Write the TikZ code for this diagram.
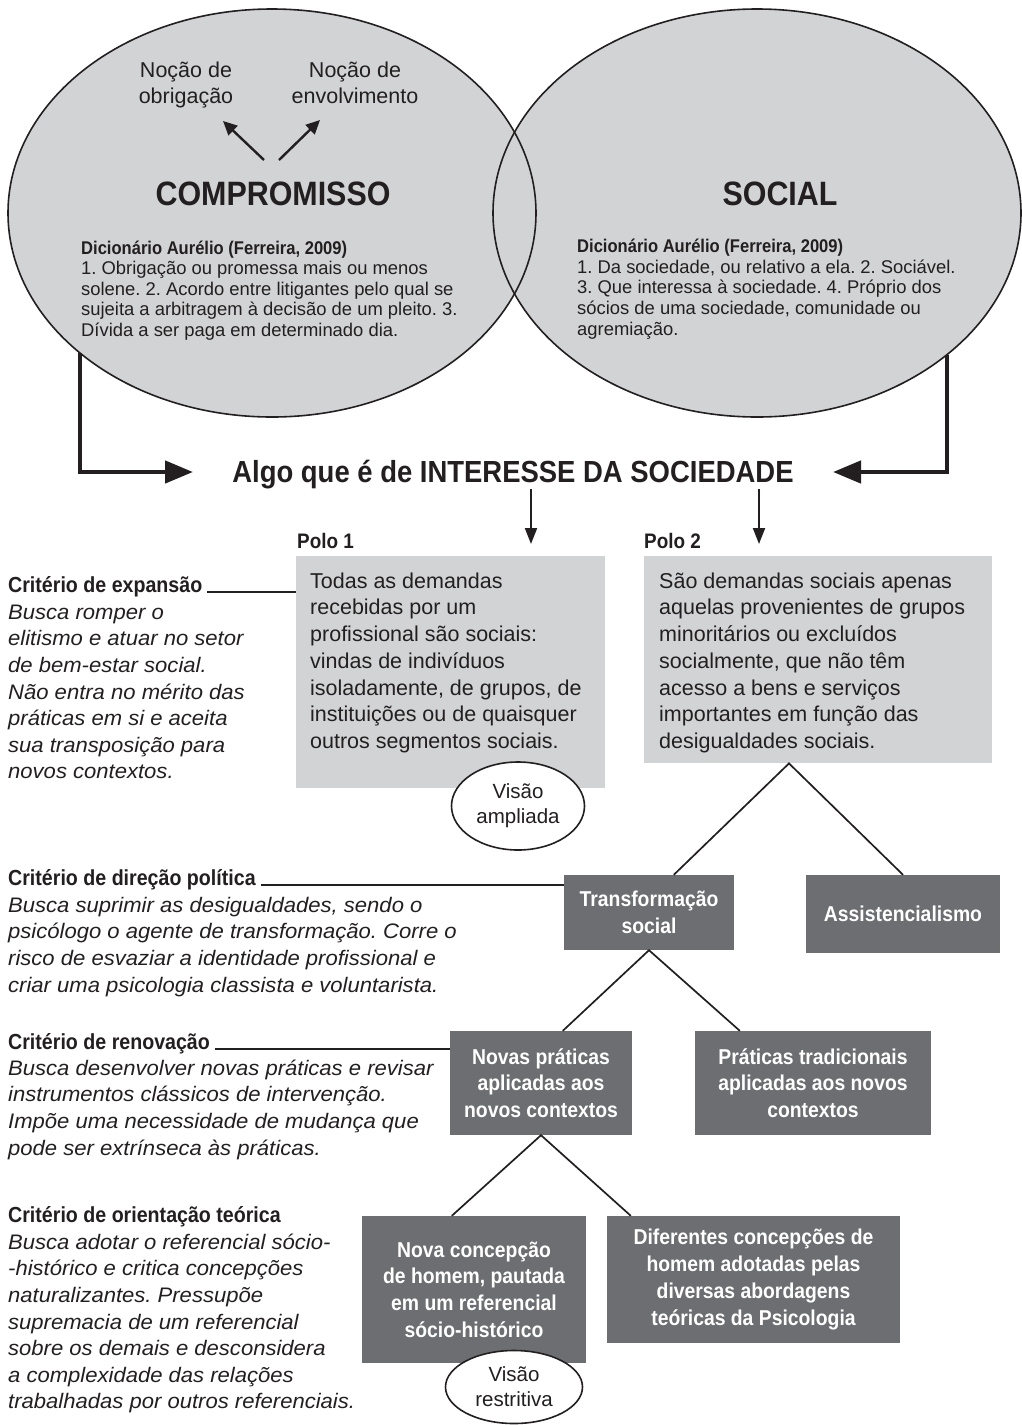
\documentclass[tikz,border=0pt]{standalone}
\usepackage{fontspec}
\setmainfont{Liberation Sans}[BoldFeatures={FakeStretch=0.9},ItalicFeatures={FakeStretch=1.05}]
\usetikzlibrary{shapes.geometric,arrows.meta}
\definecolor{lg}{HTML}{D1D3D4}
\definecolor{dg}{HTML}{6D6E71}
\definecolor{ink}{HTML}{231F20}
\newcommand{\fsz}[2]{\fontsize{#1}{#2}\selectfont}
\newcommand{\st}{\rule{0pt}{1em}}
\frenchspacing
\begin{document}
\frenchspacing
\begin{tikzpicture}[x=1pt,y=-1pt,
  every node/.style={inner sep=0pt, text=ink},
  txt/.style={anchor=north west, align=left},
  crit/.style={anchor=base west, font=\bfseries\fsz{21.8}{24}},
  polo/.style={anchor=base west, font=\bfseries\fsz{21}{24}},
  critt/.style={txt, font=\itshape\fsz{21}{26.6}},
  dark/.style={fill=dg, text=white, font=\bfseries\fsz{21.5}{26.7}, align=center},
  oval/.style={ellipse, draw=ink, fill=white, line width=1.6pt, align=center, font=\fsz{20.5}{25}},
  tree/.style={draw=ink, line width=1.7pt},
  thickarrow/.style={draw=ink, line width=4.5pt, -{Triangle[length=28pt,width=22pt]}},
  downarrow/.style={draw=ink, line width=2pt, -{Triangle[length=16pt,width=12pt]}},
  notarrow/.style={draw=ink, line width=2.4pt, -{Triangle[length=14pt,width=13pt]}},
  critline/.style={draw=ink, line width=1.8pt}]
\useasboundingbox[fill=white] (0,0) rectangle (1021,1425);

% ellipses
\node[ellipse, fill=lg, minimum width=528pt, minimum height=408pt] (elL) at (272,213) {};
\node[ellipse, fill=lg, minimum width=528pt, minimum height=408pt] (elR) at (757,213) {};
\draw[ink, line width=1.6pt] (elL.center) ellipse [x radius=264, y radius=204];
\draw[ink, line width=1.6pt] (elR.center) ellipse [x radius=264, y radius=204];

% notions
\node[anchor=north, align=center, font=\fsz{21.5}{26}] (n1) at (186,55.5) {\st Noção de\\obrigação};
\node[anchor=north, align=center, font=\fsz{21.5}{26}] (n2) at (355,55.5) {\st Noção de\\envolvimento};
\coordinate (nr1) at (264,160); \coordinate (nt1) at (223,121);
\coordinate (nr2) at (279,160); \coordinate (nt2) at (320,120);
\draw[notarrow] (nr1) -- (nt1);
\draw[notarrow] (nr2) -- (nt2);

\node[anchor=base, font=\bfseries\fsz{33.8}{36}] (comp) at (273,205) {COMPROMISSO};
\node[anchor=base, font=\bfseries\fsz{33.8}{36}] (soc) at (780,205) {SOCIAL};

\node[txt, font=\fsz{18.4}{20.5}] (dicL) at (81,235.6) {\st\textbf{Dicionário Aurélio (Ferreira, 2009)}\\
1. Obrigação ou promessa mais ou menos\\
solene. 2. Acordo entre litigantes pelo qual se\\
sujeita a arbitragem à decisão de um pleito. 3.\\
Dívida a ser paga em determinado dia.};
\node[txt, font=\fsz{18.4}{20.8}] (dicR) at (577,233.6) {\st\textbf{Dicionário Aurélio (Ferreira, 2009)}\\
1. Da sociedade, ou relativo a ela. 2. Sociável.\\
3. Que interessa à sociedade. 4. Próprio dos\\
sócios de uma sociedade, comunidade ou\\
agremiação.};

% title and big connectors
\node[anchor=base, font=\bfseries\fsz{30.5}{34}] (title) at (513,482) {Algo que é de INTERESSE DA SOCIEDADE};
\coordinate (lst) at (80,353); \coordinate (ltip) at (193,472);
\coordinate (rst) at (947,355); \coordinate (rtip) at (833,472);
\draw[thickarrow] (lst) |- (ltip);
\draw[thickarrow] (rst) |- (rtip);

\coordinate (d1s) at (531,489); \coordinate (d1e) at (531,544);
\coordinate (d2s) at (759,489); \coordinate (d2e) at (759,544);
\draw[downarrow] (d1s) -- (d1e);
\draw[downarrow] (d2s) -- (d2e);

\node[polo] (polo1) at (297,548) {Polo 1};
\node[polo] (polo2) at (644,548) {Polo 2};

% pole boxes
\node[fill=lg, anchor=north west, minimum width=309pt, minimum height=232pt] (box1) at (296,556) {};
\node[fill=lg, anchor=north west, minimum width=348pt, minimum height=207pt] (box2) at (644,556) {};
\node[txt, font=\fsz{21.5}{26.7}] (t1) at (310,566.5) {\st Todas as demandas\\
recebidas por um\\
profissional são sociais:\\
vindas de indivíduos\\
isoladamente, de grupos, de\\
instituições ou de quaisquer\\
outros segmentos sociais.};
\node[txt, font=\fsz{21.5}{26.7}] (t2) at (659,566.5) {\st São demandas sociais apenas\\
aquelas provenientes de grupos\\
minoritários ou excluídos\\
socialmente, que não têm\\
acesso a bens e serviços\\
importantes em função das\\
desigualdades sociais.};

\node[oval, minimum width=133pt, minimum height=88pt] (va) at (518,806) {Visão\\ampliada};

% dark boxes
\node[dark, minimum width=170pt, minimum height=75pt] (tr) at (649,912.5) {Transformação\\social};
\node[dark, minimum width=194pt, minimum height=78pt] (as) at (903,914) {Assistencialismo};
\node[dark, minimum width=182pt, minimum height=104pt] (np) at (541,1083) {Novas práticas\\aplicadas aos\\novos contextos};
\node[dark, minimum width=236pt, minimum height=104pt] (pt) at (813,1083) {Práticas tradicionais\\aplicadas aos novos\\contextos};
\node[dark, minimum width=224pt, minimum height=147pt] (nc) at (474,1289.5) {Nova concepção\\de homem, pautada\\em um referencial\\sócio-histórico};
\node[dark, minimum width=293pt, minimum height=127pt] (df) at (753.5,1279.5) {Diferentes concepções de\\homem adotadas pelas\\diversas abordagens\\teóricas da Psicologia};

\node[oval, minimum width=137pt, minimum height=73pt] (vr) at (514,1387) {Visão\\restritiva};

% tree connectors
\coordinate (p2a) at ([xshift=145pt]box2.south west);
\coordinate (tra) at ([xshift=110pt]tr.north west);
\coordinate (npa) at ([xshift=113pt]np.north west);
\coordinate (pta) at ([xshift=45pt]pt.north west);
\coordinate (nca) at ([xshift=90pt]nc.north west);
\coordinate (dfa) at ([xshift=24pt]df.north west);
\draw[tree] (tra) -- (p2a) -- (as.north);
\draw[tree] (npa) -- (tr.south) -- (pta);
\draw[tree] (nca) -- (np.south) -- (dfa);

% criteria
\node[crit] (c1) at (8,592) {Critério de expansão};
\node[critt] (c1t) at (8,598) {\st Busca romper o\\
elitismo e atuar no setor\\
de bem-estar social.\\
Não entra no mérito das\\
práticas em si e aceita\\
sua transposição para\\
novos contextos.};
\node[crit] (c2) at (8,885) {Critério de direção política};
\node[critt] (c2t) at (8,891) {\st Busca suprimir as desigualdades, sendo o\\
psicólogo o agente de transformação. Corre o\\
risco de esvaziar a identidade profissional e\\
criar uma psicologia classista e voluntarista.};
\node[crit] (c3) at (8,1049) {Critério de renovação};
\node[critt] (c3t) at (8,1054) {\st Busca desenvolver novas práticas e revisar\\
instrumentos clássicos de intervenção.\\
Impõe uma necessidade de mudança que\\
pode ser extrínseca às práticas.};
\node[crit] (c4) at (8,1222) {Critério de orientação teórica};
\node[critt] (c4t) at (8,1228) {\st Busca adotar o referencial sócio-\\
-histórico e critica concepções\\
naturalizantes. Pressupõe\\
supremacia de um referencial\\
sobre os demais e desconsidera\\
a complexidade das relações\\
trabalhadas por outros referenciais.};

\draw[critline] ([xshift=5pt]c1.base east) -- (c1.base east -| box1.west);
\draw[critline] ([xshift=5pt]c2.base east) -- (c2.base east -| tr.west);
\draw[critline] ([xshift=5pt]c3.base east) -- (c3.base east -| np.west);
\end{tikzpicture}
\end{document}
